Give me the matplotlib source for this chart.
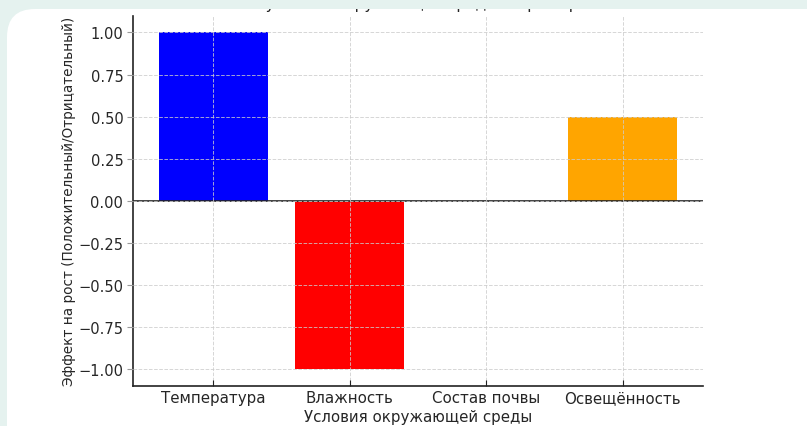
import matplotlib
matplotlib.use("Agg")
import matplotlib.pyplot as plt
from matplotlib.patches import FancyBboxPatch, Rectangle
from matplotlib.transforms import IdentityTransform

# data
conditions = ["Температура", "Влажность", "Состав почвы", "Освещённость"]
effects = [1, -1, 0, 0.5]
bar_colors = ["blue", "red", "green", "orange"]

title = "Влияние условий окружающей среды на рост растений"
x_label = "Условия окружающей среды"
y_label = "Эффект на рост (Положительный/Отрицательный)"

plt.rcParams["font.family"] = ["DejaVu Sans"]

W, H = 807, 427
bg = "#e5f2ef"
text_col = "#262626"

fig = plt.figure(figsize=(W / 100, H / 100), dpi=100, facecolor=bg)

# white card behind the chart (pixel coords)
card = FancyBboxPatch((7 + 28, -40 + 28), W + 40 - 56, H + 40 - 10 - 56,
                      boxstyle="round,pad=28", transform=IdentityTransform(),
                      facecolor="white", edgecolor="none", zorder=-5)
fig.patches.append(card)

ax = fig.add_axes([133 / W, 40 / H, (703 - 133) / W, (410.4 - 40) / H])
ax.set_facecolor("none")

ax.bar(conditions, effects, color=bar_colors, width=0.8)
ax.axhline(0, color="#222222", linewidth=1.2)

ax.grid(True, linestyle="--", color="#cccccc", linewidth=0.7, alpha=0.8)
ax.set_axisbelow(False)

ax.spines["top"].set_visible(False)
ax.spines["right"].set_visible(False)
ax.spines["left"].set_color("#222222")
ax.spines["bottom"].set_color("#222222")
ax.spines["left"].set_linewidth(1.2)
ax.spines["bottom"].set_linewidth(1.2)

ax.set_yticks([-1, -0.75, -0.5, -0.25, 0, 0.25, 0.5, 0.75, 1])
ax.set_yticklabels(["−1.00", "−0.75", "−0.50", "−0.25", "0.00",
                    "0.25", "0.50", "0.75", "1.00"])
ax.tick_params(axis="x", direction="in", length=4, labelsize=10.8,
               labelcolor=text_col, color="#222222", pad=3)
ax.tick_params(axis="y", direction="out", length=4, labelsize=10.5,
               labelcolor=text_col, color="#999999", pad=3)

ax.set_xlabel(x_label, fontsize=10.8, color=text_col, labelpad=2.5)
ax.set_ylabel(y_label, fontsize=9.8, color=text_col, labelpad=1.5)

# title sits mostly above the visible area, only descenders peek through
fig.text(0.518, 1 - 9 / H, title, ha="center", va="baseline",
         fontsize=11, color=text_col)
fig.patches.append(Rectangle((0, H - 10), W, 10, transform=IdentityTransform(),
                             facecolor=bg, edgecolor="none", zorder=10))

fig.savefig("out.png", dpi=100, facecolor=bg)
